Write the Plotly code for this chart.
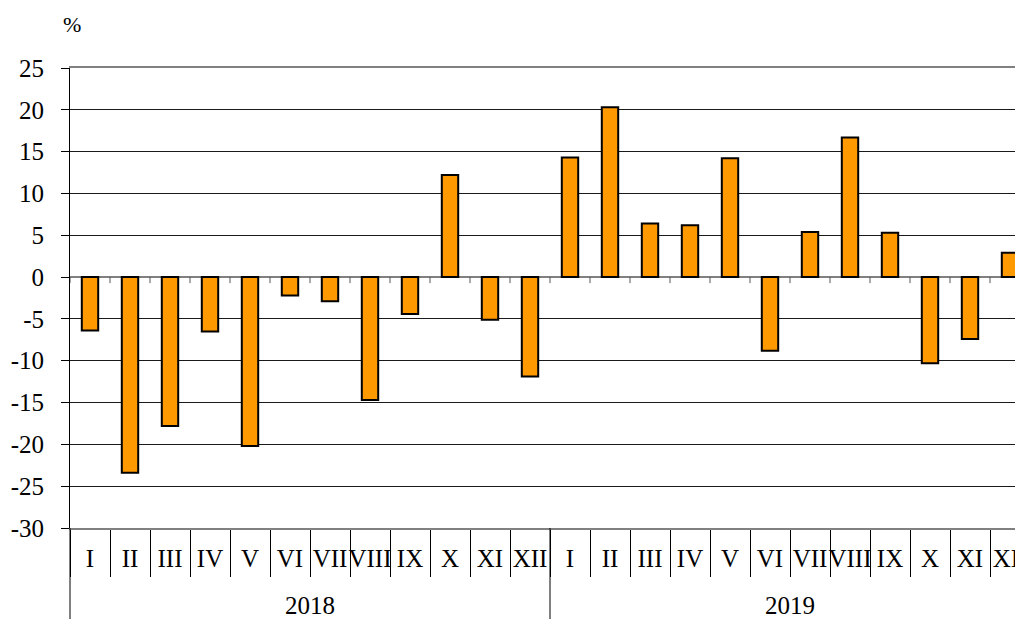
import plotly.graph_objects as go

# ---- data ----
years = ["2018", "2019"]
months = ["I", "II", "III", "IV", "V", "VI", "VII", "VIII", "IX", "X", "XI", "XII"]
values_2018 = [-6.4, -23.4, -17.8, -6.5, -20.2, -2.2, -2.9, -14.7, -4.4, 12.2, -5.1, -11.9]
values_2019 = [14.3, 20.3, 6.4, 6.2, 14.2, -8.8, 5.4, 16.7, 5.3, -10.3, -7.4, 2.9]
y_ticks = [-30, -25, -20, -15, -10, -5, 0, 5, 10, 15, 20, 25]

values = values_2018 + values_2019
labels = months + months
n = len(values)
xpos = list(range(n))
boundaries = [i - 0.5 for i in range(n + 1)]

W, H = 1015, 619
ML, MR, MT, MB = 70, 0, 68, 91
plot_w = W - ML - MR
plot_h = H - MT - MB
cat_px = 40
x_range = [-0.5, -0.5 + plot_w / cat_px]
y_range = [-30, 25]

FONT = "'Liberation Serif', 'Times New Roman', 'DejaVu Serif', serif"

fig = go.Figure()
fig.add_trace(go.Bar(
    x=xpos, y=values, width=0.41,
    marker=dict(color="#FF9900", line=dict(color="black", width=2)),
    showlegend=False, hoverinfo="skip", cliponaxis=True,
))

shapes = []
# small ticks at the zero line (category boundaries)
for b in boundaries:
    shapes.append(dict(type="line", xref="x", yref="y", ysizemode="pixel", yanchor=0,
                       x0=b, x1=b, y0=0, y1=-6, line=dict(color="#555", width=1)))
# left axis extension and year divider
shapes.append(dict(type="line", xref="paper", yref="paper", x0=0, x1=0, y0=0, y1=-0.2,
                   line=dict(color="black", width=1)))
per_year = len(months)
for k in range(1, len(years)):
    xb = k * per_year - 0.5
    shapes.append(dict(type="line", xref="x", yref="paper", x0=xb, x1=xb, y0=0, y1=-0.2,
                       line=dict(color="black", width=1)))

annotations = []
for k, yr in enumerate(years):
    annotations.append(dict(text=yr, xref="x", yref="paper", x=k * per_year + (per_year - 1) / 2,
                            y=-(605 - (H - MB)) / plot_h, yanchor="middle",
                            showarrow=False, font=dict(family=FONT, size=25, color="black")))
annotations.append(dict(text="%", xref="paper", yref="paper", x=0.002, y=1 + (MT - 25) / plot_h,
                        xanchor="center", yanchor="middle", showarrow=False,
                        font=dict(family=FONT, size=22, color="black")))

fig.update_layout(
    width=W, height=H,
    margin=dict(l=ML, r=MR, t=MT, b=MB, autoexpand=False),
    paper_bgcolor="white", plot_bgcolor="white",
    shapes=shapes, annotations=annotations,
    xaxis=dict(
        range=x_range, tickmode="array", tickvals=xpos, ticktext=labels,
        ticks="", ticklabelstandoff=7, automargin=False, tickangle=0,
        ticklabeloverflow="allow",
        tickfont=dict(family=FONT, size=25, color="black"),
        showgrid=False, zeroline=False,
        showline=True, linecolor="#808080", linewidth=2, mirror=True,
        minor=dict(tickmode="array", tickvals=boundaries, ticks="outside", ticklen=47,
                   tickcolor="black", tickwidth=1, showgrid=False),
        fixedrange=True,
    ),
    yaxis=dict(
        range=y_range, tickmode="array", tickvals=y_ticks, ticktext=[str(v) for v in y_ticks],
        ticks="outside", ticklen=8, tickcolor="black", tickwidth=1, automargin=False,
        ticklabelstandoff=12,
        tickfont=dict(family=FONT, size=25, color="black"),
        showgrid=True, gridcolor="#1a1a1a", gridwidth=1,
        zeroline=True, zerolinecolor="#808080", zerolinewidth=1.5,
        showline=True, linecolor="black", linewidth=1,
        fixedrange=True,
    ),
)

fig.write_html("out.html", config={"displayModeBar": False},
               post_script="document.body.style.margin='0';document.body.style.overflow='hidden';")
